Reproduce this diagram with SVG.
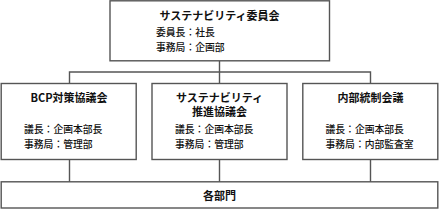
<svg xmlns="http://www.w3.org/2000/svg" width="439" height="209" viewBox="0 0 439 209">
<style>
.box{fill:#fff;stroke:#555;stroke-width:1.4}
.con{fill:none;stroke:#555;stroke-width:1.4}
text{font-family:"Noto Sans CJK JP","Noto Sans",sans-serif;fill:#111}
.t{font-size:11px;font-weight:bold;text-anchor:middle}
.b{font-size:9.8px;font-weight:500}
</style>
<rect width="439" height="209" fill="#fff"/>
<g id="connectors">
<path class="con" d="M219.5,61V72M69.5,84V72H370.5V84M219.5,72V84"/>
<path class="con" d="M69.5,159V182M219.5,159V182M370.5,159V182"/>
</g>
<g id="node-top">
<rect class="box" x="110" y="0.8" width="219.5" height="60"/>
<text class="t" x="219.5" y="20">サステナビリティ委員会</text>
<text class="b" x="156" y="35.5">委員長：社長</text>
<text class="b" x="156" y="50.5">事務局：企画部</text>
</g>
<g id="node-bcp">
<rect class="box" x="1.2" y="83.5" width="135" height="76"/>
<text class="t" x="69" y="101.5">BCP対策協議会</text>
<text class="b" x="24" y="133">議長：企画本部長</text>
<text class="b" x="24" y="148">事務局：管理部</text>
</g>
<g id="node-sus">
<rect class="box" x="152" y="83.5" width="135" height="76"/>
<text class="t" x="219.5" y="101.5">サステナビリティ</text>
<text class="t" x="219.5" y="116">推進協議会</text>
<text class="b" x="175" y="133">議長：企画本部長</text>
<text class="b" x="175" y="148">事務局：管理部</text>
</g>
<g id="node-internal">
<rect class="box" x="302.8" y="83.5" width="135" height="76"/>
<text class="t" x="370.5" y="101.5">内部統制会議</text>
<text class="b" x="325.5" y="133">議長：企画本部長</text>
<text class="b" x="325.5" y="148">事務局：内部監査室</text>
</g>
<g id="node-all">
<rect class="box" x="1.2" y="181.8" width="436.6" height="26.2"/>
<text class="t" x="219.5" y="200">各部門</text>
</g>
</svg>
